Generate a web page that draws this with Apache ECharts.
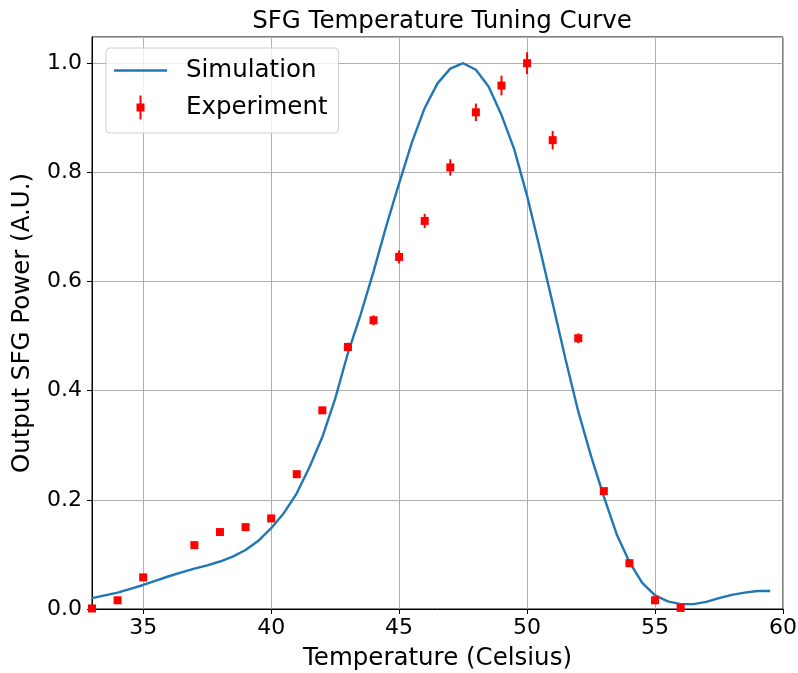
<!DOCTYPE html>
<html>
<head>
<meta charset="utf-8">
<script src="https://cdn.jsdelivr.net/npm/echarts@6/dist/echarts.min.js"></script>
<style>
html,body{margin:0;padding:0;background:#fff;}
#chart{width:798px;height:673px;}
</style>
</head>
<body>
<div id="chart"></div>
<script>
// Simulation curve (temperature in Celsius, normalized power)
const simTemp = [33,33.5,34,34.5,35,35.5,36,36.5,37,37.5,38,38.5,39,39.5,40,40.5,41,41.5,42,42.5,43,43.5,44,44.5,45,45.5,46,46.5,47,47.5,48,48.5,49,49.5,50,50.5,51,51.5,52,52.5,53,53.5,54,54.5,55,55.5,56,56.5,57,57.5,58,58.5,59,59.5];
const simPower = [0.020,0.025,0.030,0.037,0.044,0.052,0.060,0.067,0.074,0.080,0.087,0.096,0.108,0.125,0.148,0.176,0.212,0.260,0.315,0.385,0.469,0.540,0.618,0.702,0.780,0.855,0.918,0.963,0.990,1.000,0.988,0.957,0.905,0.842,0.757,0.660,0.560,0.458,0.362,0.280,0.206,0.137,0.086,0.048,0.025,0.014,0.009,0.009,0.013,0.020,0.026,0.030,0.033,0.033];

// Experiment data
const expTemp = [33,34,35,37,38,39,40,41,42,43,44,45,46,47,48,49,50,51,52,53,54,55,56];
const expPower = [0.001,0.016,0.058,0.117,0.141,0.150,0.166,0.247,0.364,0.480,0.529,0.645,0.711,0.809,0.910,0.959,1.000,0.859,0.496,0.216,0.084,0.016,0.002];
const expErr = [0.001,0.002,0.003,0.003,0.003,0.003,0.004,0.005,0.006,0.008,0.009,0.012,0.013,0.015,0.016,0.018,0.020,0.017,0.009,0.004,0.002,0.001,0.001];

const xTicks = [35,40,45,50,55,60];

const font = 'DejaVu Sans';
const bigSize = 24.5;
const tickSize = 22;
const chart = echarts.init(document.getElementById('chart'));

const simData = simTemp.map((t,i)=>[t, simPower[i]]);
const expData = expTemp.map((t,i)=>[t, expPower[i]]);
const errData = expTemp.map((t,i)=>[t, expPower[i]-expErr[i], expPower[i]+expErr[i]]);

chart.setOption({
  animation:false,
  backgroundColor:'#fff',
  title:{
    text:'SFG Temperature Tuning Curve',
    left:437, textAlign:'center', top:4,
    textStyle:{fontFamily:font, fontSize:bigSize, fontWeight:'normal', color:'#000'}
  },
  grid:{left:92, right:15, top:37, bottom:64, outerBoundsMode:'none', containLabel:false,
    show:true, borderColor:'#000', borderWidth:1, backgroundColor:'transparent'},
  legend:{
    orient:'vertical', left:106, top:48,
    padding:[10,11,13,8], itemGap:12,
    itemWidth:53, itemHeight:24,
    borderColor:'#d0d0d0', borderWidth:1, borderRadius:4,
    backgroundColor:'rgba(255,255,255,0.8)',
    textStyle:{fontFamily:font, fontSize:bigSize, lineHeight:24, color:'#000', padding:[0,0,0,14]},
    data:[
      {name:'Simulation', icon:'path://M0,0 L53,0 L53,2.4 L0,2.4 Z', itemStyle:{color:'#1f77b4'}},
      {name:'Experiment', icon:'path://M3,0 L5,0 L5,8 L8,8 L8,16 L5,16 L5,24 L3,24 L3,16 L0,16 L0,8 L3,8 Z', itemStyle:{color:'#ff0000', opacity:1}}
    ]
  },
  xAxis:{
    type:'value', min:33, max:60,
    name:'Temperature (Celsius)', nameLocation:'middle', nameGap:37,
    nameTextStyle:{fontFamily:font, fontSize:bigSize, color:'#000'},
    axisLine:{show:true, lineStyle:{color:'#000', width:1}},
    axisTick:{show:true, length:5, lineStyle:{color:'#000'}, customValues:xTicks},
    axisLabel:{fontFamily:font, fontSize:tickSize, color:'#000', margin:8, customValues:xTicks},
    splitLine:{show:true, lineStyle:{color:'#b0b0b0', width:1}}
  },
  yAxis:{
    type:'value', min:0, max:1.048, interval:0.2,
    name:'Output SFG Power (A.U.)', nameLocation:'middle', nameGap:57,
    nameTextStyle:{fontFamily:font, fontSize:bigSize, color:'#000'},
    axisLine:{show:true, lineStyle:{color:'#000', width:1}},
    axisTick:{show:true, length:5, lineStyle:{color:'#000'}},
    axisLabel:{fontFamily:font, fontSize:tickSize, color:'#000', margin:10, showMaxLabel:false,
      formatter:v=>v.toFixed(1)},
    splitLine:{show:true, lineStyle:{color:'#b0b0b0', width:1}}
  },
  series:[
    {
      name:'Simulation', type:'line', data:simData, symbol:'none', smooth:false,
      lineStyle:{color:'#1f77b4', width:2.4}, itemStyle:{color:'#1f77b4'}, z:3
    },
    {
      name:'ErrorBars', type:'custom', data:errData, z:4,
      renderItem:function(params, api){
        const x = api.value(0);
        const p1 = api.coord([x, api.value(1)]);
        const p2 = api.coord([x, api.value(2)]);
        return {type:'line', shape:{x1:p1[0], y1:p1[1], x2:p2[0], y2:p2[1]},
          style:{stroke:'#ff0000', lineWidth:2}};
      },
      encode:{x:0, y:[1,2]}
    },
    {
      name:'Experiment', type:'scatter', data:expData, symbol:'rect', symbolSize:8,
      itemStyle:{color:'#ff0000', opacity:1}, z:5
    }
  ]
});
</script>
</body>
</html>
